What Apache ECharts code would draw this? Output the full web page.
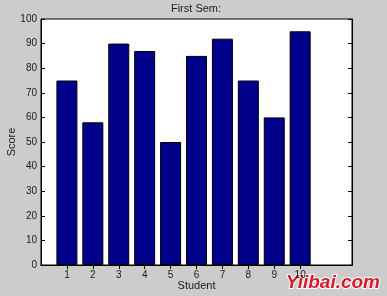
<!DOCTYPE html>
<html><head><meta charset="utf-8">
<script src="https://cdn.jsdelivr.net/npm/echarts@6/dist/echarts.min.js"></script>
<style>html,body{margin:0;padding:0;background:#cccccc;}#c{width:387px;height:296px;}</style>
</head><body><div id="c"></div>
<script>
var students = ['0','1','2','3','4','5','6','7','8','9','10','11','12'];
var scores = [null,75,58,90,87,50,85,92,75,60,95,null,null];
var yTicks = [0,10,20,30,40,50,60,70,80,90,100];

var chart = echarts.init(document.getElementById('c'), null, {renderer:'canvas'});
var font = 'Liberation Sans, Arial, sans-serif';
var showIdx = function(i){ return i>=1 && i<=10; };
chart.setOption({
  backgroundColor:'#cccccc',
  animation:false,
  title:{text:'First Sem:', left:196, top:3, padding:0, textAlign:'center',
    textStyle:{fontFamily:font, fontSize:11, fontWeight:'normal', color:'#1a1a1a'}},
  grid:{left:41, top:19, right:35, bottom:31, outerBoundsMode:'none', containLabel:false,
    show:true, backgroundColor:'#ffffff', borderColor:'#000', borderWidth:1},
  xAxis:[{
    type:'category', data:students, boundaryGap:false,
    name:'Student', nameLocation:'middle', nameGap:15, nameMoveOverlap:false,
    nameTextStyle:{fontFamily:font, fontSize:11, color:'#1a1a1a'},
    axisLine:{lineStyle:{color:'#000'}},
    axisTick:{inside:true, length:4, interval:showIdx, lineStyle:{color:'#000'}},
    axisLabel:{interval:showIdx, fontFamily:font, fontSize:10, color:'#1a1a1a', margin:5},
    splitLine:{show:false}
  },{
    type:'category', data:students, boundaryGap:false, position:'top',
    axisLine:{lineStyle:{color:'#000'}},
    axisTick:{inside:true, length:4, interval:showIdx, lineStyle:{color:'#000'}},
    axisLabel:{show:false}, splitLine:{show:false}
  }],
  yAxis:[{
    type:'value', min:0, max:100, interval:10,
    name:'Score', nameLocation:'middle', nameGap:24, nameRotate:90, nameMoveOverlap:false,
    nameTextStyle:{fontFamily:font, fontSize:11, color:'#1a1a1a'},
    axisLine:{show:true, lineStyle:{color:'#000'}},
    axisTick:{show:true, inside:true, length:4, lineStyle:{color:'#000'}},
    axisLabel:{fontFamily:font, fontSize:10, color:'#1a1a1a', margin:4},
    splitLine:{show:false}
  },{
    type:'value', min:0, max:100, interval:10, position:'right',
    axisLine:{show:true, lineStyle:{color:'#000'}},
    axisTick:{show:true, inside:true, length:4, lineStyle:{color:'#000'}},
    axisLabel:{show:false}, splitLine:{show:false}
  }],
  series:[{
    type:'bar', data:scores, barWidth:21, xAxisIndex:0, yAxisIndex:0,
    itemStyle:{color:'#00008b', borderColor:'#000', borderWidth:1}
  }],
  graphic:[{
    type:'text', right:6, bottom:3,
    style:{text:'Yiibai.com', fontFamily:font, fontSize:19, fontStyle:'italic', fontWeight:'bold',
      fill:'#d9182b', stroke:'#ffffff', lineWidth:2}
  }]
});
</script></body></html>
